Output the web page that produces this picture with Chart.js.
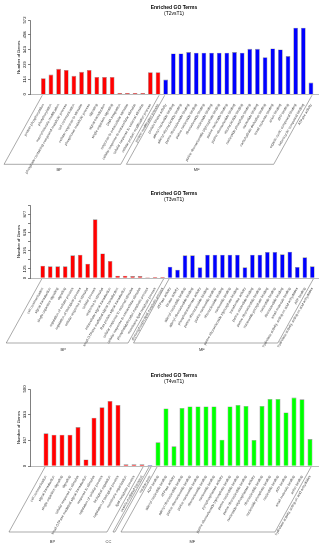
<!DOCTYPE html>
<html><head><meta charset="utf-8">
<script src="https://cdn.jsdelivr.net/npm/chart.js@4/dist/chart.umd.min.js"></script>
<style>
html,body{margin:0;padding:0;background:#fff;width:324px;height:550px;overflow:hidden}
.panel{position:absolute;left:0;width:324px}
canvas{display:block}
</style></head><body>
<div class="panel" style="top:0px;height:183px"><canvas id="c1" width="324" height="183"></canvas></div>
<div class="panel" style="top:183px;height:185px"><canvas id="c2" width="324" height="185"></canvas></div>
<div class="panel" style="top:368px;height:182px"><canvas id="c3" width="324" height="182"></canvas></div>
<script>
// ---------- DATA ----------
const T2_TITLE = ['Enriched GO Terms', '(T2vsT1)'];
const T2_CATEGORIES = [
  'protein phosphorylation','phosphorylation','macromolecule modification',
  'phosphate-containing compound metabolic process','cell communication',
  'cellular response to stimulus','phosphorus metabolic process','signaling',
  'signal transduction','single organism signaling','DNA integration',
  'response to extracellular stimulus','cellular response to extracellular stimulus',
  'cellular response to external stimulus','cellular protein modification process',
  'protein modification process',
  'protein kinase activity','adenyl nucleotide binding','adenyl ribonucleotide binding',
  'purine ribonucleoside binding','purine nucleoside binding','ribonucleoside binding',
  'nucleoside binding','purine ribonucleoside triphosphate binding','purine nucleotide binding',
  'purine ribonucleotide binding','ribonucleotide binding','nucleoside phosphate binding',
  'nucleotide binding','carbohydrate derivative binding','small molecule binding',
  'anion binding','ATP binding','organic cyclic compound binding',
  'heterocyclic compound binding','ATPase activity'
];
const T2_VALUES = [124,152,196,188,142,173,188,134,134,134,10,10,10,10,170,170,
  113,314,314,325,320,320,320,320,320,325,320,350,350,286,353,345,294,513,513,90];
const T2_GROUP_NAMES = ['BP','MF'];
const T2_GROUP_SIZES = [16,20];
const T2_Y_TICKS = [0,114,229,343,458,572];
const T2_Y_LABELS = ['0','114','229','343','458','572'];

const T3_TITLE = ['Enriched GO Terms', '(T3vsT1)'];
const T3_CATEGORIES = [
  'cell communication','signal transduction','single organism signaling','signaling',
  'regulation of cellular process','regulation of biological process',
  'cellular response to stimulus','cellular process','response to stimulus',
  'intracellular signal transduction','small GTPase mediated signal transduction',
  'Ras protein signal transduction','cellular response to external stimulus',
  'cellular response to extracellular stimulus','phosphatidylinositol metabolic process',
  'membrane lipid metabolic process','glycerophospholipid metabolic process',
  'ATPase activity','kinase activity','adenyl nucleotide binding','adenyl ribonucleotide binding',
  'phosphotransferase activity','purine ribonucleoside binding','purine nucleoside binding',
  'ribonucleoside binding','nucleoside binding','purine ribonucleoside triphosphate binding',
  'transferase activity','purine nucleotide binding','purine ribonucleotide binding',
  'nucleoside phosphate binding','nucleotide binding','ribonucleotide binding',
  'small molecule binding','hydrolase activity, acting on acid anhydrides','ATP binding',
  'hydrolase activity, acting on acid anhydrides'
];
const T3_VALUES = [169,160,160,160,311,320,197,805,338,233,32,32,27,27,9,14,14,
  156,114,311,311,146,320,320,320,320,320,146,320,320,357,357,325,361,151,284,160];
const T3_GROUP_NAMES = ['BP','MF'];
const T3_GROUP_SIZES = [17,20];
const T3_Y_TICKS = [0,125,251,376,501,626,752,877,1002];
const T3_Y_LABELS = ['0','125','','376','','626','','877',''];

const T4_TITLE = ['Enriched GO Terms', '(T4vsT1)'];
const T4_CATEGORIES = [
  'cell communication','signal transduction','single organism signaling','signaling',
  'cellular response to stimulus','small GTPase mediated signal transduction',
  'response to stimulus','regulation of cellular process','biological regulation',
  'regulation of biological process','membrane organization','lipid metabolic process',
  'vesicle-mediated transport',
  'nuclear pore',
  'ADP binding','adenyl nucleotide binding','ATPase activity','adenyl ribonucleotide binding',
  'purine ribonucleoside binding','purine nucleoside binding','ribonucleoside binding',
  'nucleoside binding','pyrophosphatase activity','purine ribonucleoside triphosphate binding',
  'purine nucleotide binding','purine ribonucleotide binding','nucleoside-triphosphatase activity',
  'ribonucleotide binding','nucleoside phosphate binding','nucleotide binding','ATP binding',
  'small molecule binding','anion binding','hydrolase activity, acting on acid anhydrides'
];
const T4_VALUES = [212,203,203,203,253,43,314,381,422,396,11,11,11,
  6,
  154,374,128,377,387,387,387,387,171,387,396,390,169,390,435,435,348,444,433,175];
const T4_GROUP_NAMES = ['BP','CC','MF'];
const T4_GROUP_SIZES = [13,1,20];
const T4_Y_TICKS = [0,167,333,500];
const T4_Y_LABELS = ['0','167','333','500'];

// ---------- STYLE ----------
const FONT = '"Liberation Sans", Arial, Helvetica, sans-serif';
const GROUP_COLORS_A = {BP:'#ff0000', MF:'#0000ff'};
const GROUP_COLORS_B = {BP:'#ff0000', CC:'#0000ff', MF:'#00ff00'};

const bracketPlugin = {
  id: 'goBrackets',
  afterDraw(chart, args, o) {
    const {ctx, chartArea} = chart;
    const xs = chart.scales.x;
    const top = chartArea.bottom + o.topGap;
    const bottom = chartArea.bottom + o.depth;
    const k = 1 / Math.tan(o.angle * Math.PI / 180);
    const d = (bottom - top) * k;
    ctx.save();
    ctx.strokeStyle = o.color; ctx.lineWidth = o.lineWidth;
    ctx.fillStyle = o.textColor;
    ctx.font = o.fontSize + 'px ' + FONT;
    ctx.textAlign = 'center'; ctx.textBaseline = 'middle';
    let start = 0;
    o.names.forEach((name, gi) => {
      const end = start + o.sizes[gi] - 1;
      const x0 = xs.getPixelForValue(start) - o.pad;
      const x1 = xs.getPixelForValue(end) + o.pad;
      ctx.beginPath();
      ctx.moveTo(x0, top); ctx.lineTo(x0 - d, bottom);
      ctx.lineTo(x1 - d, bottom); ctx.lineTo(x1, top);
      ctx.stroke();
      const ly = chartArea.bottom + o.labelDepth;
      const lx = (x0 + x1) / 2 - (ly - top) * k;
      ctx.fillText(name, lx, ly);
      start = end + 1;
    });
    ctx.restore();
  }
};

function makeChart(id, L, title, cats, vals, gNames, gSizes, yTicks, yLabels, colors) {
  const groupOf = [];
  gNames.forEach((g, i) => { for (let j = 0; j < gSizes[i]; j++) groupOf.push(g); });
  const canvas = document.getElementById(id);
  const H = canvas.height;
  return new Chart(canvas, {
    type: 'bar',
    data: {
      datasets: [{
        data: vals.map((v, i) => ({x: i, y: v})),
        backgroundColor: groupOf.map(g => colors[g]),
        borderColor: '#8c8c8c',
        borderWidth: 0.6,
        barPercentage: 0.62,
        categoryPercentage: 1
      }]
    },
    plugins: [bracketPlugin],
    options: {
      responsive: false,
      animation: false,
      devicePixelRatio: 1,
      layout: {padding: {left: 0, right: 6, top: 0, bottom: 0}},
      plugins: {
        legend: {display: false},
        tooltip: {enabled: false},
        title: {display: true, text: title[0], fullSize: false, color: '#000',
          font: {family: FONT, size: 5, weight: 'bold', lineHeight: 1},
          padding: {top: L.titleC - 2.5, bottom: 0}},
        subtitle: {display: true, text: title[1], fullSize: false, color: '#000',
          font: {family: FONT, size: 5, lineHeight: 1},
          padding: {top: L.subC - L.titleC - 5, bottom: L.areaTop - L.subC - 2.5}},
        goBrackets: {names: gNames, sizes: gSizes, topGap: 1, depth: L.depth,
          labelDepth: L.labelDepth, angle: 61, pad: 1, color: '#555', lineWidth: 0.5,
          textColor: '#333', fontSize: 4}
      },
      scales: {
        x: {
          type: 'linear', min: L.xmin, max: L.xmax, offset: false,
          afterBuildTicks: s => { s.ticks = cats.map((_, i) => ({value: i})); },
          afterFit: s => { s.height = H - L.areaBottom; },
          grid: {display: false},
          border: {display: true, color: '#777', width: 0.5},
          ticks: {autoSkip: false, minRotation: 60, maxRotation: 60, padding: 1,
            color: '#444', font: {family: FONT, size: 3.5, lineHeight: 1},
            callback: v => cats[v]}
        },
        y: {
          min: 0, max: yTicks[yTicks.length - 1],
          afterBuildTicks: s => { s.ticks = yTicks.map(v => ({value: v})); },
          afterFit: s => { s.width = 30; },
          grid: {drawOnChartArea: false, drawTicks: true, tickLength: 2, color: '#000', lineWidth: 0.5},
          border: {display: true, color: '#000', width: 0.5},
          title: {display: true, text: 'Number of Genes', color: '#000',
            font: {family: FONT, size: 4.2, lineHeight: 1}, padding: {top: 17, bottom: 0}},
          ticks: {autoSkip: false, minRotation: 90, maxRotation: 90, crossAlign: 'center',
            padding: 0, color: '#000', font: {family: FONT, size: 4.2, lineHeight: 1},
            callback: (v, i) => yLabels[i]}
        }
      }
    }
  });
}

makeChart('c1', {titleC: 7.3, subC: 13.5, areaTop: 20, areaBottom: 94.3, depth: 70, labelDepth: 76,
  xmin: -1.74, xmax: 35.92}, T2_TITLE, T2_CATEGORIES, T2_VALUES, T2_GROUP_NAMES, T2_GROUP_SIZES,
  T2_Y_TICKS, T2_Y_LABELS, GROUP_COLORS_A);
makeChart('c2', {titleC: 10.3, subC: 16.5, areaTop: 22, areaBottom: 95, depth: 65, labelDepth: 72,
  xmin: -1.70, xmax: 36.76}, T3_TITLE, T3_CATEGORIES, T3_VALUES, T3_GROUP_NAMES, T3_GROUP_SIZES,
  T3_Y_TICKS, T3_Y_LABELS, GROUP_COLORS_A);
makeChart('c3', {titleC: 7.6, subC: 13.6, areaTop: 21, areaBottom: 98, depth: 66, labelDepth: 76,
  xmin: -2.0, xmax: 34.0}, T4_TITLE, T4_CATEGORIES, T4_VALUES, T4_GROUP_NAMES, T4_GROUP_SIZES,
  T4_Y_TICKS, T4_Y_LABELS, GROUP_COLORS_B);
</script>
</body></html>
